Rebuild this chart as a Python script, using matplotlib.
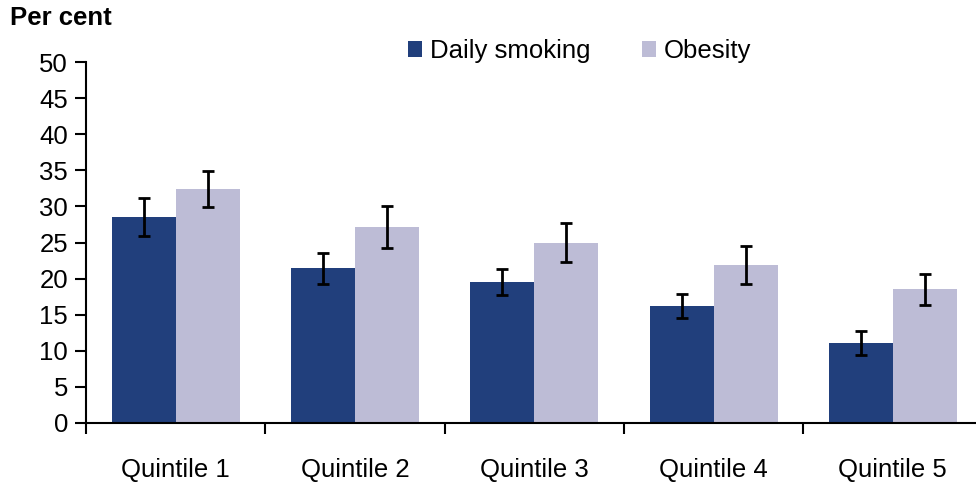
import matplotlib.pyplot as plt
import numpy as np

plt.rcParams["font.family"] = ["Liberation Sans", "DejaVu Sans"]

categories = ["Quintile 1", "Quintile 2", "Quintile 3", "Quintile 4", "Quintile 5"]
smoking = [28.5, 21.4, 19.5, 16.2, 11.1]
smoking_err = [2.6, 2.1, 1.8, 1.65, 1.7]
obesity = [32.4, 27.1, 25.0, 21.9, 18.5]
obesity_err = [2.5, 2.9, 2.75, 2.65, 2.2]

dark = "#213f7c"
light = "#bdbcd6"
fs = 18.5

fig = plt.figure(figsize=(9.76, 4.82), dpi=100)
ax = fig.add_axes([86 / 976, 1 - 423 / 482, 896.5 / 976, 361 / 482])

x = np.arange(len(categories)) + 0.5
w = 0.357
err_kw = dict(ecolor="black", elinewidth=2, capsize=4.5, capthick=2)
ax.bar(x - w / 2, smoking, w, color=dark, label="Daily smoking",
       yerr=smoking_err, error_kw=err_kw, zorder=2)
ax.bar(x + w / 2, obesity, w, color=light, label="Obesity",
       yerr=obesity_err, error_kw=err_kw, zorder=2)

ax.set_xlim(0, len(categories))
ax.set_ylim(0, 50)
ax.set_yticks(np.arange(0, 51, 5))

# boundary ticks on x, labels at centres
ax.set_xticks(np.arange(0, len(categories) + 1))
ax.set_xticklabels([])
ax.set_xticks(x, minor=True)
ax.set_xticklabels(categories, minor=True)
ax.tick_params(axis="x", which="major", direction="out", length=8, width=1.5)
ax.tick_params(axis="x", which="minor", length=0, pad=25, labelsize=fs)
ax.tick_params(axis="y", direction="out", length=8, width=1.5, pad=5, labelsize=fs)

for s in ["top", "right"]:
    ax.spines[s].set_visible(False)
for s in ["left", "bottom"]:
    ax.spines[s].set_linewidth(1.5)
    ax.spines[s].set_color("black")

fig.text(10 / 976, 1 - 18 / 482, "Per cent", fontsize=fs, fontweight="bold",
         va="center", ha="left")

fig.legend(loc="center left", bbox_to_anchor=(408 / 976, 1 - 51 / 482), ncol=2,
           frameon=False, fontsize=fs, handlelength=0.55, handleheight=0.55,
           handletextpad=0.3, columnspacing=2.0, borderpad=0, borderaxespad=0)

fig.savefig("out.png", dpi=100)
